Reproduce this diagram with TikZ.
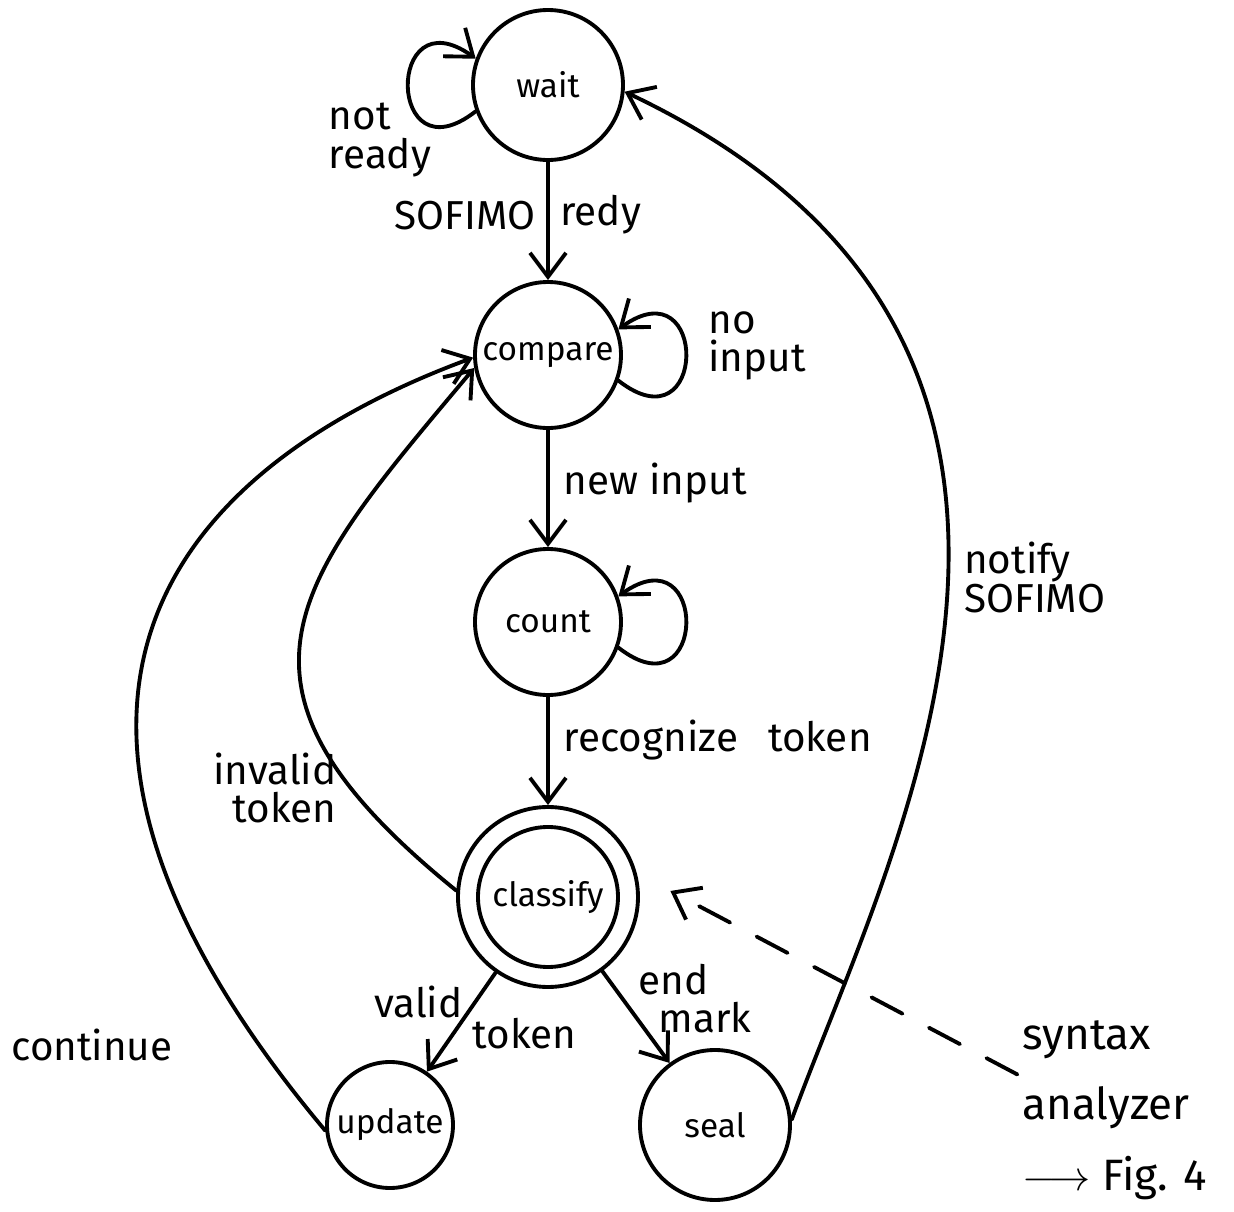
\documentclass[tikz,border=0pt]{standalone}
\usepackage{fontspec}
\setmainfont{Fira Sans}
\usetikzlibrary{arrows.meta,bending}

\begin{document}
\begin{tikzpicture}[>={Straight Barb[length=2.4mm,width=3.6mm,flex]}, line width=1.1pt, line join=round, line cap=round,
	state/.style={circle, draw, inner sep=0pt, font=\fontsize{9.5}{11}\selectfont},
	lbl/.style={inner sep=1pt, align=left, font=\fontsize{11.5}{11}\selectfont}]
	\def\loopd{1.15} % loop size
	\useasboundingbox (0,0) rectangle (12.34,-12.12);
	% states
	\node[state, minimum size=1.50cm] (wait) at (5.48,-0.85) {wait};
	\node[state, minimum size=1.46cm] (compare) at (5.48,-3.55) {compare};
	\node[state, minimum size=1.46cm] (count) at (5.48,-6.22) {count};
	\node[state, minimum size=1.80cm] (classify) at (5.48,-8.97) {classify};
	\draw (classify.center) circle (0.70);
	\node[state, minimum size=1.26cm] (update) at (3.90,-11.25) {update};
	\node[state, minimum size=1.50cm] (seal) at (7.15,-11.25) {seal};
	% self loops
	\draw[->] (wait.200) .. controls +(218:\loopd) and +(142:\loopd) .. (wait.160);
	\draw[->] (compare.-20) .. controls +(-38:\loopd) and +(38:\loopd) .. (compare.20);
	\draw[->] (count.-20) .. controls +(-38:\loopd) and +(38:\loopd) .. (count.20);
	% transitions
	\draw[->] (wait) -- (compare) node[pos=.45, left=2pt, lbl] {SOFIMO} node[pos=.45, right=2pt, lbl] {redy};
	\draw[->] (compare) -- (count) node[pos=.45, right=3pt, lbl] {new input};
	\draw[->] (count) -- (classify) node[pos=.4, right=3pt, lbl] {recognize\hspace{3mm}token};
	\draw[->] (classify) -- (update) node[pos=.3, left=2pt, lbl] {valid} node[pos=.62, right=4pt, lbl] {token};
	\draw[->] (classify) -- (seal) node[pos=.3, right=3pt, lbl] {end\\\hspace{2mm}mark};
	\draw[->] (classify.176) .. controls +(141:3.3) and +(230:2.8) .. (compare.190);
	\draw[->] (update.185) .. controls +(130:5.2) and +(200:3.57) .. (compare.182);
	\draw[->] (seal.4) .. controls +(70:2.82) and +(-25:5.96) .. (wait.-5)
		node[pos=.52, right=3pt, lbl] {notify\\SOFIMO};
	% labels
	\node[lbl] (notready) at (3.80,-1.40) {not\\ready};
	\node[lbl] (noinput) at (7.57,-3.46) {no\\input};
	\node[lbl, align=right] (invalid) at (2.75,-7.88) {invalid\\token};
	\node[lbl] (continue) at (0.92,-10.45) {continue};
	\node[lbl, font=\fontsize{12.5}{20}\selectfont] (analyzer) at (11.15,-11.10) {syntax\\analyzer\\$\longrightarrow$ Fig. 4};
	\draw[->, dash pattern=on 3.5mm off 3mm, shorten >=3.8mm] (analyzer.160) -- (classify.15);
\end{tikzpicture}
\end{document}
